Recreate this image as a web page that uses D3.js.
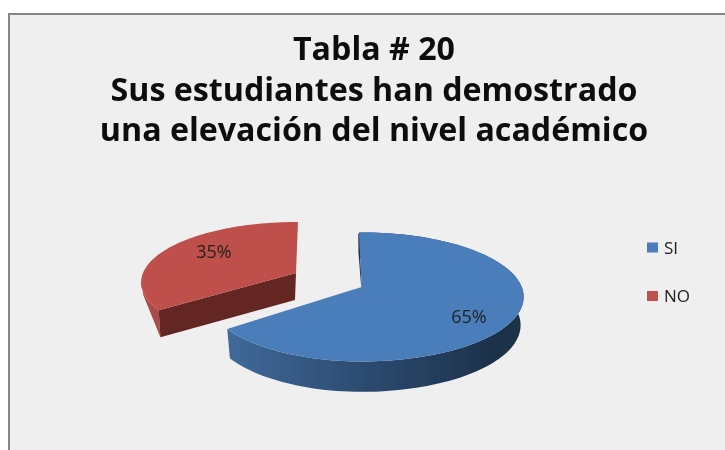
<!DOCTYPE html>
<html><head><meta charset="utf-8">
<script src="https://d3js.org/d3.v7.min.js"></script>
<style>html,body{margin:0;padding:0;background:#fff}svg{display:block}</style>
</head><body><script>
const categories = ["SI", "NO"];
const values = [65, 35];
const titleLines = ["Tabla # 20", "Sus estudiantes han demostrado", "una elevación del nivel académico"];

const W = 725, H = 450;
const svg = d3.select("body").append("svg").attr("width", W).attr("height", H);
const defs = svg.append("defs");
defs.append("filter").attr("id", "soft").append("feGaussianBlur").attr("stdDeviation", 0.45);
const gb = defs.append("linearGradient").attr("id", "wallBlue").attr("gradientUnits", "userSpaceOnUse")
  .attr("x1", 228).attr("x2", 500).attr("y1", 0).attr("y2", 0);
[[0, "#40699a"], [0.5, "#2c4b70"], [1, "#1c3049"]].forEach(s => gb.append("stop").attr("offset", s[0]).attr("stop-color", s[1]));

svg.append("rect").attr("x", 9).attr("y", 14).attr("width", W + 10).attr("height", H + 10)
  .attr("fill", "#efefef").attr("stroke", "#868686").attr("stroke-width", 2);

const root = svg.append("g").attr("filter", "url(#soft)");

root.append("g").selectAll("text").data(titleLines).join("text")
  .attr("x", 374).attr("y", (d, i) => 60 + i * 40.5)
  .attr("text-anchor", "middle").attr("font-family", "Open Sans").attr("font-weight", 700)
  .attr("font-size", 32.2).attr("fill", "#111").text(d => d);

const k = 0.154;
const pie = d3.pie().sort(null).startAngle(-0.02).endAngle(2 * Math.PI - 0.02);
const arcs = pie(values);

const geom = [
  { top: { cx: 361.7, cy: 287, rxL: 153, rxR: 160, ry: 63 },
    bot: { cx: 361.7, cy: 315, rxL: 150, rxR: 157, ry: 65 },
    rot: 0, face: "#4a7ebb", wall: "url(#wallBlue)", cut: "#1f3652", label: [469, 323] },
  { top: { cx: 296, cy: 273, rxL: 153, rxR: 153, ry: 58.8 },
    bot: { cx: 295, cy: 300, rxL: 150, rxR: 150, ry: 59 },
    rot: 0.035, face: "#be4f4b", wall: "#a94b47", cut: "#632623", label: [214, 258] }
];
function proj(e, a) {
  const u = Math.sin(a), v = Math.cos(a), w = 1 + k * v;
  return [e.cx + (u < 0 ? e.rxL : e.rxR) * u / w, e.cy - e.ry * v / w];
}
const line = d3.line();
function rim(e, a0, a1) {
  return d3.range(0, 121).map(i => proj(e, a0 + (a1 - a0) * i / 120));
}

// red slice first (behind), then blue
[1, 0].forEach(i => {
  const g = geom[i], a = arcs[i];
  const a0 = a.startAngle + g.rot, a1 = a.endAngle + g.rot;
  const c = root.append("g");
  const rimTop = rim(g.top, a0, a1);
  const rimBot = rim(g.bot, a0, a1);
  const topApex = [g.top.cx, g.top.cy], botApex = [g.bot.cx, g.bot.cy];
  if (i === 1) {
    // short outer wall: only the part from the tip to the left extreme shows, with a nearly straight lower edge
    const left = rimTop[27];
    c.append("path").attr("d", line(rimTop.slice(0, 28).concat([[left[0] + 2, left[1] + 15], rimBot[0]])) + "Z").attr("fill", g.wall);
    c.append("path").attr("d", line([rimTop[0], rimBot[0], botApex, topApex]) + "Z").attr("fill", g.cut);
  } else {
    c.append("path").attr("d", line(rimTop.concat(rimBot.slice().reverse())) + "Z").attr("fill", g.wall);
    const s = rimTop[0];
    c.append("path").attr("d", line([s, [s[0] - 0.8, s[1] + 2], [s[0] - 0.6, s[1] + 20], [g.top.cx - 0.5, g.top.cy], topApex]) + "Z").attr("fill", g.cut);
  }
  c.append("path").attr("d", line(rimTop.concat([topApex])) + "Z").attr("fill", g.face);
});

root.append("g").selectAll("text").data(arcs).join("text")
  .attr("x", (d, i) => geom[i].label[0]).attr("y", (d, i) => geom[i].label[1])
  .attr("text-anchor", "middle").attr("font-family", "Open Sans").attr("font-size", 18)
  .attr("fill", "#222").text(d => d.data + "%");

const legendY = d3.scalePoint().domain(categories).range([247.5, 296]);
const legend = root.append("g").selectAll("g").data(categories).join("g")
  .attr("transform", d => `translate(647,${legendY(d)})`);
legend.append("rect").attr("x", 0).attr("y", -5).attr("width", 11).attr("height", 10)
  .attr("fill", (d, i) => geom[i].face);
legend.append("text").attr("x", 17).attr("y", 6).attr("font-family", "Open Sans")
  .attr("font-size", 17).attr("fill", "#222").text(d => d);
</script></body></html>
